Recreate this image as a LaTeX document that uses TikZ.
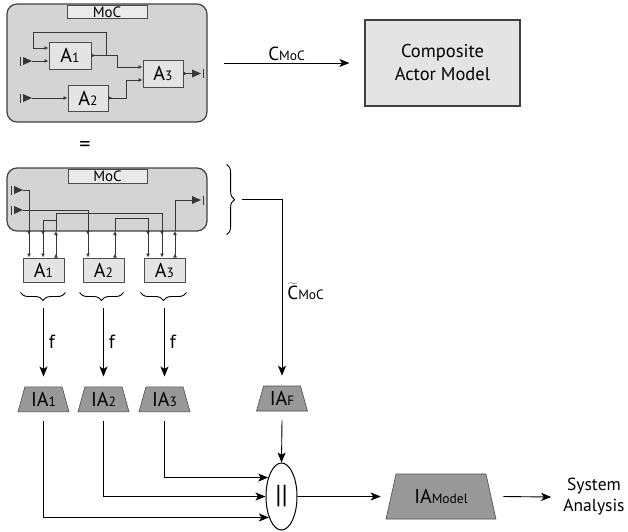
\documentclass[tikz,border=0pt]{standalone}
\usepackage{fontspec}
\setmainfont{PT Sans}
\usetikzlibrary{arrows.meta,positioning,shapes.geometric,decorations.pathreplacing}
\definecolor{blockfill}{RGB}{212,212,212}
\definecolor{tabfill}{RGB}{234,234,234}
\definecolor{actorfill}{RGB}{228,228,228}
\definecolor{iafill}{RGB}{152,152,152}
\definecolor{wirecol}{RGB}{55,55,55}
\newcommand{\ix}[1]{{\fontsize{13.5}{13.5}\selectfont #1}}
\newcommand{\InPort}[1]{%
  \fill[wirecol] (#1) -- ++(-9,4) -- ++(0,-8) -- cycle;
  \draw[wirecol,line width=1.6pt] ([xshift=-11.5pt]#1) ++(0,-4.5) -- ++(0,9);}
\newcommand{\OutPort}[1]{%
  \fill[wirecol] (#1) ++(0,-4) -- ++(0,8) -- ++(9,-4) -- cycle;
  \draw[wirecol,line width=1.6pt] ([xshift=11.5pt]#1) ++(0,-4.5) -- ++(0,9);}

\begin{document}
\begin{tikzpicture}[x=1pt,y=-1pt]
\tikzstyle{txt}=[font=\fontsize{19}{22}\selectfont, inner sep=2pt]
\tikzstyle{block}=[rectangle, rounded corners=10pt, draw=black!75, line width=1.2pt, fill=blockfill]
\tikzstyle{tab}=[rectangle, draw=black!70, line width=0.8pt, fill=tabfill, inner sep=0pt, font=\fontsize{15}{15}\selectfont]
\tikzstyle{actor}=[rectangle, draw=black!70, line width=1pt, fill=actorfill, inner sep=0pt, font=\fontsize{20}{20}\selectfont]
\tikzstyle{ia}=[trapezium, trapezium left angle=72, trapezium right angle=72, trapezium stretches=true, draw=black!70, line width=0.6pt, fill=iafill, inner sep=0pt, minimum width=51pt, minimum height=25pt, font=\fontsize{20}{20}\selectfont]
\tikzstyle{wire}=[draw=wirecol, line width=0.8pt]
\tikzstyle{into}=[wire, -{Latex[length=4pt,width=4pt]}]
\tikzstyle{link}=[wire, {Latex[reversed,length=4pt,width=4pt]}-{Latex[length=4pt,width=4pt]}]
\tikzstyle{connect}=[-{Stealth[length=10pt,width=8pt,inset=2.5pt]}, line width=0.9pt]
\tikzstyle{brace}=[decorate, decoration={brace, amplitude=8pt}, line width=0.9pt]
\useasboundingbox (0,0) rectangle (628,531);

% hierarchical composite actor
\node[block, minimum width=200pt, minimum height=118pt] (top) at (107,63) {};
\node[tab, minimum width=80pt, minimum height=13pt] (toptab) at (107,12) {MoC};
\node[actor, minimum width=42pt, minimum height=27pt] (ta1) at (70,55.5) {A\ix{1}};
\node[actor, minimum width=40pt, minimum height=26pt] (ta2) at (88,98) {A\ix{2}};
\node[actor, minimum width=40pt, minimum height=27pt] (ta3) at (163,73.5) {A\ix{3}};
\coordinate (tin1) at (32,61);
\coordinate (tin2) at (32,98);
\coordinate (tout) at (192,73.5);
\InPort{tin1} \InPort{tin2} \OutPort{tout}
\draw[into] (tin1) -- (ta1.west |- tin1);
\draw[into] (tin2) -- (ta2.west);
\draw[link] (ta1.east) -- (117,55.5) |- ([yshift=6.5pt]ta3.west);
\draw[into] (106,55.5) |- (33,32) |- ([yshift=7.5pt]ta1.west);
\draw[link] (ta2.east) -- (126,98) |- ([yshift=-6.5pt]ta3.west);
\draw[wire, {Latex[reversed,length=4pt,width=4pt]}-] (ta3.east) -- (tout);

\node[txt, font=\fontsize{22}{22}\selectfont] (eq) at (85,146) {=};

\node[txt, rectangle, draw=black!75, line width=1.2pt, fill=actorfill, minimum width=155pt, minimum height=86pt, align=center, font=\fontsize{18.5}{23}\selectfont] (cam) at (442.5,63) {Composite\\Actor Model};
\path ([xshift=16pt]top.east) edge[connect] node[above, txt] {C\ix{MoC}} ([xshift=-15pt]cam.west);

% flattened composite actor
\node[block, minimum width=200pt, minimum height=63pt] (blk) at (107,199.5) {};
\node[tab, minimum width=79pt, minimum height=14pt] (blktab) at (107.5,176) {MoC};
\node[actor, minimum width=41pt, minimum height=24pt] (a1) at (43.5,270) {A\ix{1}};
\node[actor, minimum width=41pt, minimum height=24pt, right=18pt of a1] (a2) {A\ix{2}};
\node[actor, minimum width=41pt, minimum height=24pt, right=19pt of a2] (a3) {A\ix{3}};
\coordinate (p1) at (29,231);
\coordinate (p2) at (43,231);
\coordinate (p3) at (56,231);
\coordinate (p4) at (88,231);
\coordinate (p5) at (115,231);
\coordinate (p6) at (148,231);
\coordinate (p7) at (162,231);
\coordinate (p8) at (175,231);
\coordinate (bin1) at (23,190);
\coordinate (bin2) at (23,210);
\coordinate (bout) at (192,200);
\InPort{bin1} \InPort{bin2} \OutPort{bout}
\draw[wire] (bin1) -| (p1);
\draw[wire] (bin2) -| (p4);
\draw[wire] (p3) -- (56,213) -| (p7);
\draw[wire] (56,220) -| (p2);
\draw[wire] (p5) -- (115,218) -| (p6);
\draw[wire] (p8) |- (bout);
\path (p1) edge[link] (p1 |- a1.north)
  (p2) edge[link] (p2 |- a1.north)
  (p3 |- a1.north) edge[link] (p3)
  (p4) edge[link] (p4 |- a2.north)
  (p5 |- a2.north) edge[link] (p5)
  (p6) edge[link] (p6 |- a3.north)
  (p7) edge[link] (p7 |- a3.north)
  (p8 |- a3.north) edge[link] (p8);

% braces
\draw[brace] ([xshift=19pt,yshift=3pt]blk.north east) -- ([xshift=19pt,yshift=-3pt]blk.south east);
\draw[brace] ([xshift=1pt,yshift=-10pt]a1.south east) -- ([xshift=-2pt,yshift=-10pt]a1.south west);
\draw[brace] ([xshift=-1pt,yshift=-10pt]a2.south east) -- ([xshift=-3pt,yshift=-10pt]a2.south west);
\draw[brace] ([xshift=1pt,yshift=-10pt]a3.south east) -- ([xshift=-3pt,yshift=-10pt]a3.south west);
\coordinate (ctip) at ([xshift=34pt]blk.east);

% interface automata
\node[ia, below=104pt of a1] (ia1) {IA\ix{1}};
\node[ia, below=104pt of a2] (ia2) {IA\ix{2}};
\node[ia, below=104pt of a3] (ia3) {IA\ix{3}};
\node[ia] (iaf) at (282,398.5) {IA\ix{F}};
\path ([yshift=-25pt]a1.south) edge[connect] node[right, txt, xshift=3pt] {f} ([yshift=10pt]ia1.north)
  ([yshift=-25pt]a2.south) edge[connect] node[right, txt, xshift=3pt] {f} ([yshift=10pt]ia2.north)
  ([yshift=-25pt]a3.south) edge[connect] node[right, txt, xshift=3pt] {f} ([yshift=10pt]ia3.north);
\draw[connect] (ctip) -| node[pos=0.76, right, txt, xshift=3pt] {$\widetilde{\mbox{C}}$\ix{MoC}} ([yshift=10pt]iaf.north);

% composition
\node[ellipse, draw, line width=1pt, minimum width=31pt, minimum height=67pt, inner sep=0pt, font=\fontsize{26}{26}\selectfont] (par) at (281.5,496.5) {||};
\node[ia, minimum width=110pt, minimum height=45pt, trapezium left angle=67.6, trapezium right angle=67.6] (iam) at (441,496.5) {IA\ix{Model}};
\node[txt, align=center, font=\fontsize{17.5}{21}\selectfont] (sys) at (594,497) {System\\Analysis};
\draw[connect] ([yshift=-9pt]ia3.south) |- (par.125);
\draw[connect] ([yshift=-9pt]ia2.south) |- (par.west);
\draw[connect] ([yshift=-9pt]ia1.south) |- (par.239);
\path ([yshift=-9pt]iaf.south) edge[connect] (par.north)
  (par.east) edge[connect] ([xshift=-10pt]iam.west)
  ([xshift=12pt]iam.east) edge[connect] ([xshift=-10pt]sys.west);
\end{tikzpicture}
\end{document}
